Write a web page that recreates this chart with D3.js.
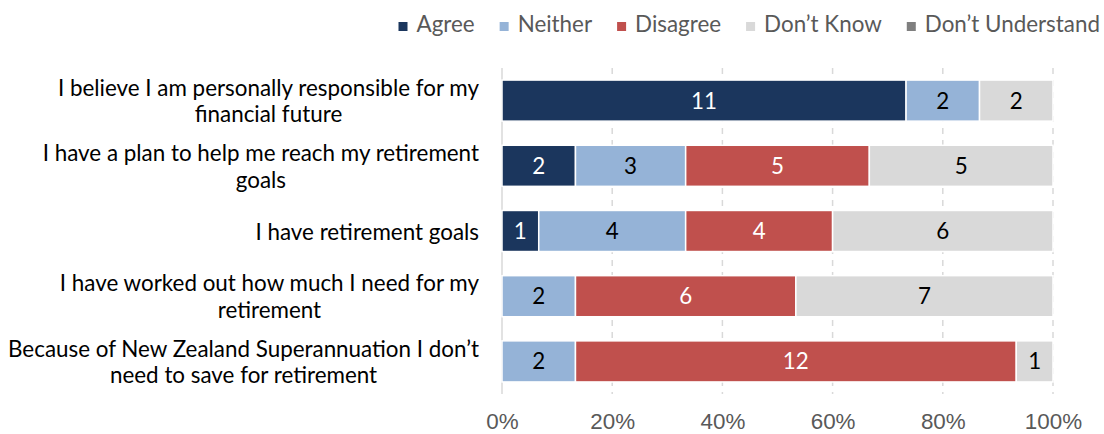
<!DOCTYPE html>
<html>
<head>
<meta charset="utf-8">
<script src="https://cdn.jsdelivr.net/npm/d3@7"></script>
<style>
  html, body { margin: 0; padding: 0; background: #fff; }
  svg { display: block; font-family: Lato, "Open Sans", sans-serif; }
</style>
</head>
<body>
<svg id="chart" width="1104" height="434"></svg>
<script>
// Survey statements, each split into its display lines
const categories = [
  ["I believe I am personally responsible for my", "financial future"],
  ["I have a plan to help me reach my retirement", "goals"],
  ["I have retirement goals"],
  ["I have worked out how much I need for my", "retirement"],
  ["Because of New Zealand Superannuation I don’t", "need to save for retirement"]
];

// Response counts per statement
const agree          = [11, 2, 1, 0, 0];
const neither        = [2, 3, 4, 2, 2];
const disagree       = [0, 5, 4, 6, 12];
const dontKnow       = [2, 5, 6, 7, 1];
const dontUnderstand = [0, 0, 0, 0, 0];

const seriesNames = ["Agree", "Neither", "Disagree", "Don’t Know", "Don’t Understand"];
const tickValues  = [0, 0.2, 0.4, 0.6, 0.8, 1];

const seriesValues = [agree, neither, disagree, dontKnow, dontUnderstand];
const colors     = ["#1b365d", "#95b3d7", "#c0504d", "#d9d9d9", "#7f7f7f"];
const textColors = ["#ffffff", "#000000", "#ffffff", "#000000", "#ffffff"];

const FONT = 22.4;
const svg = d3.select("#chart");

const x = d3.scaleLinear().domain([0, 1]).range([502, 1053]);
const y = d3.scaleBand()
  .domain(d3.range(categories.length))
  .range([68, 394])
  .paddingInner(0.37)
  .paddingOuter(0.185);

// Table of rows for the stack layout
const rows = categories.map((c, i) => {
  const r = { idx: i };
  seriesNames.forEach((s, k) => { r[s] = seriesValues[k][i]; });
  return r;
});
const stack = d3.stack().keys(seriesNames).offset(d3.stackOffsetExpand);
const layers = stack(rows);

// Vertical gridlines
svg.append("g")
  .selectAll("line")
  .data(tickValues)
  .join("line")
  .attr("x1", d => x(d)).attr("x2", d => x(d))
  .attr("y1", 68).attr("y2", 394)
  .attr("stroke", "#d9d9d9")
  .attr("stroke-width", 1.5)
  .attr("stroke-dasharray", d => d === 0 ? null : "6,6");

// Bars
const layerG = svg.append("g")
  .selectAll("g")
  .data(layers)
  .join("g")
  .attr("fill", (d, i) => colors[i]);

layerG.selectAll("rect")
  .data(d => d.filter(p => p[1] - p[0] > 0))
  .join("rect")
  .attr("x", d => x(d[0]))
  .attr("width", d => x(d[1]) - x(d[0]))
  .attr("y", d => y(d.data.idx))
  .attr("height", y.bandwidth())
  .attr("stroke", "#fff")
  .attr("stroke-width", 1.5);

// Value labels
layerG.each(function (layer, k) {
  d3.select(this).selectAll("text")
    .data(layer.filter(p => p[1] - p[0] > 0))
    .join("text")
    .attr("x", d => x((d[0] + d[1]) / 2))
    .attr("y", d => y(d.data.idx) + y.bandwidth() / 2 + 8)
    .attr("text-anchor", "middle")
    .attr("font-size", FONT)
    .attr("fill", textColors[k])
    .text(d => d.data[layer.key]);
});

// Category labels: lines centred on each other, block right-aligned
const labelRight = 479;
const lineGap = 26.5;
categories.forEach((lines, i) => {
  const cy = y(i) + y.bandwidth() / 2;
  const g = svg.append("g");
  const texts = lines.map((ln, j) =>
    g.append("text")
      .attr("y", cy + 8.5 + (j - (lines.length - 1) / 2) * lineGap)
      .attr("font-size", FONT)
      .attr("fill", "#000")
      .attr("text-anchor", "middle")
      .text(ln));
  const maxW = d3.max(texts, t => t.node().getComputedTextLength());
  texts.forEach(t => t.attr("x", labelRight - maxW / 2));
});

// X axis tick labels
const axis = d3.axisBottom(x)
  .tickValues(tickValues)
  .tickFormat(d3.format(".0%"))
  .tickSize(0)
  .tickPadding(0);
const axG = svg.append("g")
  .attr("transform", "translate(0,414)")
  .call(axis);
axG.select(".domain").remove();
axG.selectAll("text")
  .attr("font-size", FONT)
  .attr("font-family", null)
  .attr("fill", "#595959")
  .attr("dy", null)
  .attr("y", 15);

// Legend, laid out left to right and ending at the right edge
const legendGap = 25;
const legend = svg.append("g");
const items = seriesNames.map((name, i) => {
  const g = legend.append("g");
  g.append("rect").attr("width", 9).attr("height", 9).attr("y", 22).attr("fill", colors[i]);
  const t = g.append("text").attr("x", 18).attr("y", 31.5)
    .attr("font-size", FONT).attr("fill", "#595959").text(name);
  return { g, w: 18 + t.node().getComputedTextLength() };
});
let total = d3.sum(items, d => d.w) + legendGap * (items.length - 1);
let cx = 1100 - total;
items.forEach(it => { it.g.attr("transform", `translate(${cx},0)`); cx += it.w + legendGap; });
</script>
</body>
</html>
